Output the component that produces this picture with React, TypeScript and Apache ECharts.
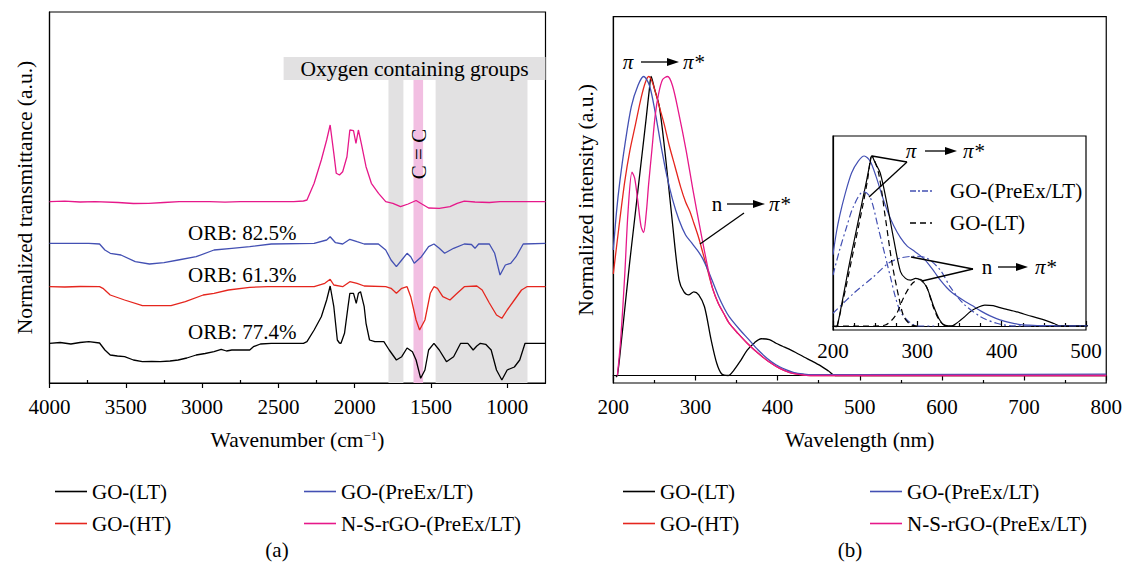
import React, { useEffect, useRef } from 'react';
import * as echarts from 'echarts';

const FONT = 'Liberation Serif';
const FS = 21;

const NAMES = ['GO-(LT)', 'GO-(HT)', 'GO-(PreEx/LT)', 'N-S-rGO-(PreEx/LT)'];
const COLORS = ['#000000', '#e5261e', '#4350b3', '#e6188a'];

const FTIR_TICKS = [1000, 1500, 2000, 2500, 3000, 3500, 4000];
const FTIR_MINOR = [1250, 1750, 2250, 2750, 3250, 3750];
const UV_MINOR = [250, 350, 450, 550, 650, 750];

// FTIR (stacked, arbitrary offsets)
const ftirLT: [number, number][] = [
  [4000, 39.7], [3930, 40.5], [3860, 39], [3800, 40.5], [3742, 41.3], [3672, 40], [3637, 33], [3602, 28],
  [3555, 27], [3508, 26.3], [3450, 23], [3391, 21.3], [3330, 21.5], [3274, 21.3], [3210, 22], [3157, 23],
  [3100, 25], [3039, 28], [2980, 29.5], [2922, 31.3], [2875, 33.7], [2840, 32], [2805, 33], [2750, 33],
  [2688, 33], [2664, 36.3], [2618, 39], [2547, 39.7], [2400, 39.7], [2336, 39.7], [2313, 41.3], [2266, 53],
  [2219, 66.3], [2184, 83], [2161, 97], [2137, 76.3], [2114, 43], [2100, 40], [2090, 39.7], [2067, 49.7],
  [2044, 76.3], [2032, 89.7], [2008, 89.7], [1990, 79.7], [1976, 89.7], [1962, 91.3], [1938, 76.3],
  [1926, 59.7], [1903, 43], [1868, 41.3], [1809, 41.3], [1774, 33], [1727, 23], [1692, 26.3], [1657, 35],
  [1622, 31.3], [1598, 23], [1568, 4.7], [1540, 13], [1516, 33], [1481, 39.7], [1446, 33], [1399, 21.3],
  [1352, 26.3], [1306, 39.7], [1259, 39.7], [1224, 33], [1200, 37], [1177, 39.7], [1142, 38.7], [1106, 33],
  [1071, 13], [1036, 3], [1001, 13], [954, 16], [919, 23], [884, 39.7], [813, 39.7], [750, 39.7],
];
const ftirHT: [number, number][] = [
  [4000, 96.3], [3900, 96], [3800, 96.5], [3672, 96.3], [3650, 94.7], [3602, 88], [3508, 83], [3391, 77.3],
  [3300, 77.3], [3204, 77.3], [3110, 81.3], [2993, 88], [2922, 89.7], [2828, 93], [2688, 95.7], [2570, 96.3],
  [2266, 96.3], [2196, 99.7], [2161, 103.7], [2137, 98], [2079, 96.3], [2032, 101.3], [1985, 99.7],
  [1938, 97], [1797, 96.3], [1762, 94.7], [1727, 89.7], [1692, 94.7], [1657, 96.3], [1633, 86.3],
  [1598, 63], [1575, 53], [1540, 63], [1505, 89.7], [1481, 96.3], [1458, 94.7], [1423, 86.3], [1376, 83],
  [1329, 89.7], [1282, 96.3], [1200, 97], [1165, 93], [1118, 80], [1071, 68], [1036, 64.7], [1001, 73],
  [954, 83], [907, 93], [872, 96.3], [750, 96.3],
];
const ftirPreEx: [number, number][] = [
  [4000, 139.7], [3742, 139.7], [3672, 139], [3637, 133], [3602, 129.7], [3532, 128], [3438, 121.3],
  [3345, 119], [3250, 120.3], [3157, 123], [3039, 126.3], [2922, 133], [2805, 134.7], [2688, 136.3],
  [2547, 139], [2266, 139.7], [2184, 143], [2161, 146.3], [2126, 140.3], [2079, 139], [2032, 143.7],
  [1985, 141.3], [1938, 139], [1845, 139], [1797, 133], [1762, 123], [1727, 116.3], [1692, 123],
  [1657, 129.7], [1633, 126.3], [1610, 119.7], [1563, 126.3], [1516, 136.3], [1481, 139], [1446, 134.7],
  [1411, 129.7], [1352, 134.7], [1282, 139], [1235, 138.5], [1212, 134.7], [1188, 139], [1118, 139],
  [1083, 129.7], [1048, 108], [1013, 118], [978, 119.7], [943, 126.3], [896, 139], [750, 139.7],
];
const ftirNS: [number, number][] = [
  [4000, 181.3], [3900, 181.8], [3800, 181], [3700, 181.3], [3550, 180.5], [3450, 179.5], [3350, 179.7],
  [3250, 180.5], [3150, 181.3], [2950, 181.3], [2850, 180.8], [2750, 181.3], [2400, 181.3], [2336, 182],
  [2313, 183], [2266, 199.7], [2219, 223], [2184, 243], [2161, 258], [2137, 229.7], [2121, 209.7],
  [2100, 208], [2079, 211.3], [2051, 226.3], [2032, 253], [2008, 252.3], [1992, 239.7], [1976, 253],
  [1957, 239.7], [1926, 216.3], [1891, 199.7], [1844, 189.7], [1797, 181.3], [1750, 179.7], [1700, 176.3],
  [1650, 179], [1598, 182.5], [1560, 179], [1516, 175], [1446, 174.7], [1376, 176.3], [1329, 179.7],
  [1282, 181.8], [1212, 181], [1118, 180.5], [1048, 181.3], [750, 181.3],
];

// UV-vis (normalized)
const uvLT: [number, number][] = [
  [203, -0.005], [205, 0], [210, 0.12], [215, 0.25], [220, 0.38], [225, 0.5], [230, 0.62], [235, 0.74],
  [240, 0.86], [244, 0.96], [246, 1.0], [250, 0.96], [256, 0.9], [264, 0.72], [272, 0.51], [280, 0.32],
  [286, 0.28], [292, 0.27], [298, 0.28], [304, 0.27], [311, 0.23], [319, 0.12], [326, 0.04], [332, 0.005],
  [340, 0], [346, 0.015], [355, 0.05], [363, 0.085], [372, 0.11], [380, 0.123], [390, 0.12], [398, 0.108],
  [406, 0.098], [414, 0.088], [422, 0.077], [432, 0.062], [442, 0.048], [452, 0.033], [462, 0.015],
  [470, 0], [800, 0],
];
const uvHT: [number, number][] = [
  [200, 0.34], [207, 0.5], [214, 0.65], [220, 0.75], [227, 0.84], [234, 0.93], [239, 0.98], [243, 1.0],
  [247, 0.985], [252, 0.94], [257, 0.89], [262, 0.84], [268, 0.77], [275, 0.7], [282, 0.63], [288, 0.58],
  [293, 0.55], [298, 0.51], [304, 0.46], [309, 0.41], [315, 0.35], [321, 0.29], [328, 0.24], [335, 0.205],
  [341, 0.175], [352, 0.14], [363, 0.108], [376, 0.075], [389, 0.047], [402, 0.025], [415, 0.01],
  [428, 0.003], [440, 0], [800, 0],
];
const uvPreEx: [number, number][] = [
  [200, 0.42], [204, 0.55], [208, 0.65], [214, 0.77], [222, 0.9], [230, 0.97], [237, 1.0], [244, 0.97],
  [251, 0.88], [258, 0.77], [265, 0.67], [272, 0.59], [280, 0.52], [288, 0.47], [295, 0.445], [302, 0.42],
  [308, 0.395], [314, 0.36], [320, 0.32], [328, 0.265], [335, 0.225], [341, 0.197], [354, 0.153],
  [365, 0.12], [376, 0.086], [387, 0.058], [398, 0.036], [410, 0.02], [420, 0.01], [432, 0.005],
  [442, 0.003], [500, 0.003], [800, 0.005],
];
const uvNS: [number, number][] = [
  [205, 0], [209, 0.12], [214, 0.34], [218, 0.55], [222.8, 0.68], [226, 0.66], [230, 0.58], [233.7, 0.5],
  [236.8, 0.478], [240, 0.54], [243, 0.64], [247, 0.755], [251, 0.87], [255, 0.94], [260, 0.99], [266, 1.0],
  [272, 0.97], [279.7, 0.877], [288.5, 0.755], [297, 0.62], [306, 0.487], [314.7, 0.365], [321, 0.29],
  [328, 0.24], [335, 0.205], [341, 0.175], [352, 0.14], [363, 0.108], [376, 0.075], [389, 0.047],
  [402, 0.025], [415, 0.01], [428, 0.003], [440, 0], [800, 0],
];

// Inset deconvolution components
const fitPreEx1: [number, number][] = [
  [200, 0.3], [208, 0.45], [216, 0.58], [224, 0.7], [236, 0.79], [244, 0.76], [254, 0.57], [262, 0.41],
  [268, 0.29], [274, 0.17], [280, 0.084], [288, 0.035], [296, 0.006], [304, 0], [320, 0],
];
const fitPreEx2: [number, number][] = [
  [200, 0.075], [224, 0.19], [248, 0.29], [266, 0.37], [280, 0.4], [296, 0.41], [311, 0.4], [327, 0.33],
  [339, 0.23], [355, 0.13], [375, 0.055], [394, 0.016], [414, 0.001], [442, 0], [500, 0],
];
const fitLT1: [number, number][] = [
  [205, 0], [215, 0.22], [225, 0.46], [235, 0.7], [241, 0.86], [246, 1.0], [254, 0.9], [262, 0.64],
  [270, 0.37], [278, 0.17], [284, 0.055], [292, 0.008], [300, 0],
];
const fitLT2: [number, number][] = [
  [200, 0], [250, 0], [262, 0.006], [274, 0.06], [284, 0.17], [294, 0.25], [303.5, 0.275], [311, 0.23],
  [319, 0.11], [327, 0.027], [335, 0], [350, 0],
];

const FTIR = [ftirLT, ftirHT, ftirPreEx, ftirNS];
const UV = [uvLT, uvHT, uvPreEx, uvNS];

function arrow(x1: number, x2: number, y: number) {
  return [
    { type: 'line', z: 30, shape: { x1, y1: y, x2: x2 - 8, y2: y }, style: { stroke: '#000', lineWidth: 1.3 } },
    { type: 'polygon', z: 30, shape: { points: [[x2 - 12, y - 4], [x2, y], [x2 - 12, y + 4]] }, style: { fill: '#000' } },
  ];
}
function txt(text: string, x: number, y: number, align = 'center', italic = false, rotation = 0) {
  return {
    type: 'text', z: 30, x, y, rotation,
    style: { text, fill: '#000', fontSize: FS, fontFamily: FONT, fontStyle: italic ? 'italic' : 'normal', align, verticalAlign: 'middle' },
  };
}
function seg(x1: number, y1: number, x2: number, y2: number) {
  return { type: 'line', z: 30, shape: { x1, y1, x2, y2 }, style: { stroke: '#000', lineWidth: 1.3 } };
}

export default function App() {
  const ref = useRef<HTMLDivElement>(null);
  useEffect(() => {
    const chart = echarts.init(ref.current!, undefined, { renderer: 'svg' });
    const axisText = { color: '#000', fontSize: FS, fontFamily: FONT };
    const nameText = { color: '#000', fontSize: 21.5, fontFamily: FONT };
    const line = { color: '#000', width: 1.2 };
    const gridBox = { show: true, borderColor: '#000', borderWidth: 1.2, backgroundColor: 'transparent' };
    const plain = (v: number) => String(v);

    const series: any[] = [];
    series.push({
      type: 'line', xAxisIndex: 0, yAxisIndex: 0, data: [[750, -50]], symbol: 'none', silent: true, z: 1,
      lineStyle: { opacity: 0 },
      markArea: {
        silent: true,
        data: [
          [{ name: 'Oxygen containing groups', xAxis: 2466, yAxis: 326, itemStyle: { color: '#e2e1e2' },
             label: { show: true, position: 'inside', color: '#000', fontSize: 21.5, fontFamily: FONT } }, { xAxis: 750, yAxis: 303 }],
          [{ xAxis: 1779, yAxis: 303, itemStyle: { color: '#e2e1e2' }, label: { show: false } }, { xAxis: 1681, yAxis: 0 }],
          [{ xAxis: 1470, yAxis: 303, itemStyle: { color: '#e2e1e2' }, label: { show: false } }, { xAxis: 868, yAxis: 0 }],
          [{ xAxis: 1615, yAxis: 303, itemStyle: { color: '#f2bfe2' }, label: { show: false } }, { xAxis: 1552, yAxis: 0 }],
        ],
      },
    });
    FTIR.forEach((d, i) => series.push({
      name: NAMES[i], type: 'line', xAxisIndex: 0, yAxisIndex: 0, data: d, symbol: 'none', z: 3,
      lineStyle: { color: COLORS[i], width: 1.3 }, itemStyle: { color: COLORS[i] },
    }));
    UV.forEach((d, i) => series.push({
      name: NAMES[i], type: 'line', xAxisIndex: 2, yAxisIndex: 1, data: d, symbol: 'none', z: 3, smooth: 0.3,
      lineStyle: { color: COLORS[i], width: 1.3 }, itemStyle: { color: COLORS[i] },
    }));
    const insetSeries = [
      { name: 'inset PreEx', data: uvPreEx, color: COLORS[2], type: 'solid' },
      { name: 'inset LT', data: uvLT, color: COLORS[0], type: 'solid' },
      { name: 'PreEx fit 1', data: fitPreEx1, color: COLORS[2], type: [7, 3, 2, 3] },
      { name: 'PreEx fit 2', data: fitPreEx2, color: COLORS[2], type: [7, 3, 2, 3] },
      { name: 'LT fit 1', data: fitLT1, color: COLORS[0], type: [6, 4] },
      { name: 'LT fit 2', data: fitLT2, color: COLORS[0], type: [6, 4] },
    ];
    insetSeries.forEach((s) => series.push({
      name: s.name, type: 'line', xAxisIndex: 4, yAxisIndex: 2, data: s.data, symbol: 'none', z: 12, smooth: 0.3,
      lineStyle: { color: s.color, width: 1.2, type: s.type }, itemStyle: { color: s.color },
    }));

    const legendCommon = {
      orient: 'vertical', itemWidth: 32, itemHeight: 14, itemGap: 11, icon: 'path://M0,0L32,0L32,1.6L0,1.6Z',
      textStyle: { color: '#000', fontSize: FS, fontFamily: FONT }, selectedMode: false,
    };

    const graphic: any[] = [
      txt('ORB: 82.5%', 188, 233, 'left'),
      txt('ORB: 61.3%', 188, 275, 'left'),
      txt('ORB: 77.4%', 188, 332, 'left'),
      txt('C = C', 419, 154, 'center', false, Math.PI / 2),
      txt('π', 628, 62, 'center', true), ...arrow(641, 679, 62), txt('π*', 683, 62, 'left', true),
      txt('n', 717, 204), ...arrow(727, 765, 204), txt('π*', 769, 204, 'left', true),
      seg(744, 213, 700, 244),
      txt('π', 911, 151, 'center', true), ...arrow(925, 957, 151), txt('π*', 963, 151, 'left', true),
      seg(907, 162, 872, 156), seg(907, 162, 869, 197),
      txt('n', 987, 267), ...arrow(998, 1028, 267), txt('π*', 1035, 267, 'left', true),
      seg(973, 269, 911, 257), seg(973, 269, 922, 281),
      { type: 'line', z: 30, shape: { x1: 910, y1: 191, x2: 932, y2: 191 }, style: { stroke: COLORS[2], lineWidth: 1.3, lineDash: [6, 2, 2, 2] } },
      txt('GO-(PreEx/LT)', 950, 191, 'left'),
      { type: 'line', z: 30, shape: { x1: 910, y1: 223, x2: 932, y2: 223 }, style: { stroke: '#000', lineWidth: 1.3, lineDash: [6, 4] } },
      txt('GO-(LT)', 950, 223, 'left'),
      txt('(a)', 277, 550), txt('(b)', 850, 550),
    ];

    chart.setOption({
      animation: false,
      textStyle: { fontFamily: FONT },
      grid: [
        { left: 49.5, top: 12, width: 496, height: 371, ...gridBox },
        { left: 613.3, top: 16.7, width: 493.5, height: 366.3, ...gridBox },
        { left: 833, top: 136, width: 253, height: 194, ...gridBox, backgroundColor: '#fff', z: 5 },
      ],
      xAxis: [
        {
          gridIndex: 0, type: 'value', min: 750, max: 4000, inverse: true,
          name: 'Wavenumber (cm{sup|−1})', nameLocation: 'middle', nameGap: 46,
          nameTextStyle: { ...nameText, rich: { sup: { fontSize: 13, verticalAlign: 'top', fontFamily: FONT, color: '#000' } } },
          axisLine: { lineStyle: line }, splitLine: { show: false },
          axisTick: { customValues: FTIR_TICKS, length: 5, lineStyle: line },
          axisLabel: { customValues: FTIR_TICKS, ...axisText, margin: 13, formatter: plain },
        },
        {
          gridIndex: 0, type: 'value', min: 750, max: 4000, inverse: true, position: 'bottom',
          axisLine: { show: false }, splitLine: { show: false }, axisLabel: { show: false },
          axisTick: { customValues: FTIR_MINOR, inside: true, length: 3, lineStyle: line },
        },
        {
          gridIndex: 1, type: 'value', min: 200, max: 800, interval: 100,
          name: 'Wavelength (nm)', nameLocation: 'middle', nameGap: 46, nameTextStyle: nameText,
          axisLine: { lineStyle: line }, splitLine: { show: false },
          axisTick: { length: 5, lineStyle: line },
          axisLabel: { ...axisText, margin: 13, formatter: plain },
        },
        {
          gridIndex: 1, type: 'value', min: 200, max: 800, position: 'bottom',
          axisLine: { show: false }, splitLine: { show: false }, axisLabel: { show: false },
          axisTick: { customValues: UV_MINOR, inside: true, length: 3, lineStyle: line },
        },
        {
          gridIndex: 2, type: 'value', min: 200, max: 500, interval: 100, z: 12,
          axisLine: { lineStyle: line }, splitLine: { show: false },
          axisTick: { inside: true, length: 5, lineStyle: line },
          minorTick: { show: true, splitNumber: 4, length: 3, lineStyle: line },
          axisLabel: { ...axisText, margin: 10, formatter: plain },
        },
      ],
      yAxis: [
        {
          gridIndex: 0, type: 'value', min: 0, max: 371,
          name: 'Normalized transmittance (a.u.)', nameLocation: 'middle', nameGap: 14, nameTextStyle: nameText,
          axisLine: { lineStyle: line }, axisTick: { show: false }, axisLabel: { show: false }, splitLine: { show: false },
        },
        {
          gridIndex: 1, type: 'value', min: -0.025, max: 1.2,
          name: 'Normalized intensity (a.u.)', nameLocation: 'middle', nameGap: 16, nameTextStyle: nameText,
          axisLine: { lineStyle: line }, axisTick: { show: false }, axisLabel: { show: false }, splitLine: { show: false },
        },
        {
          gridIndex: 2, type: 'value', min: -0.0235, max: 1.1176, z: 12,
          axisLine: { lineStyle: line }, axisTick: { show: false }, axisLabel: { show: false }, splitLine: { show: false },
        },
      ],
      legend: [
        { ...legendCommon, left: 50, top: 476, data: [NAMES[0], NAMES[1]] },
        { ...legendCommon, left: 299, top: 476, data: [NAMES[2], NAMES[3]] },
        { ...legendCommon, left: 618, top: 476, data: [NAMES[0], NAMES[1]] },
        { ...legendCommon, left: 865, top: 476, data: [NAMES[2], NAMES[3]] },
      ],
      series,
      graphic,
    });
    return () => chart.dispose();
  }, []);
  return <div ref={ref} style={{ position: 'fixed', left: 0, top: 0, width: 1125, height: 567, background: '#fff' }} />;
}
